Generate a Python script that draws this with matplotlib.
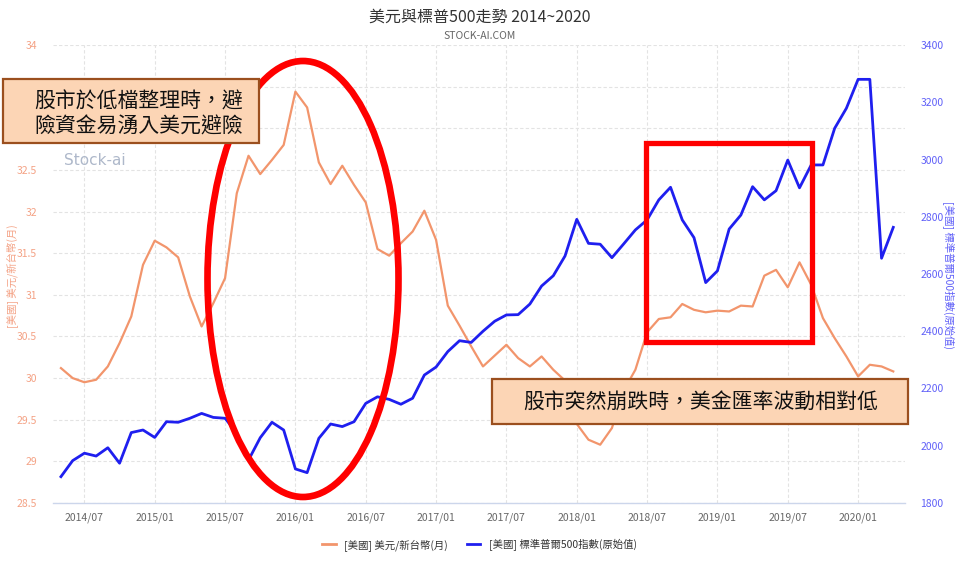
import numpy as np
import matplotlib
matplotlib.use("Agg")
import matplotlib.pyplot as plt
from matplotlib.patches import Rectangle, Ellipse
from matplotlib.ticker import FuncFormatter

plt.rcParams['font.family'] = ['Noto Sans CJK TC', 'DejaVu Sans']

# monthly data 2014/05 - 2020/04
months = [f"{y}/{m:02d}" for y in range(2014, 2021) for m in range(1, 13)]
months = months[months.index("2014/05"):months.index("2020/04") + 1]

usd_twd = [30.12, 30.00, 29.95, 29.98, 30.14, 30.42, 30.74, 31.36,
           31.65, 31.57, 31.45, 30.98, 30.62, 30.90, 31.20, 32.22, 32.67, 32.45, 32.62, 32.80,
           33.44, 33.25, 32.59, 32.33, 32.55, 32.32, 32.11, 31.55, 31.47, 31.62, 31.76, 32.01,
           31.66, 30.87, 30.63, 30.38, 30.14, 30.27, 30.40, 30.24, 30.14, 30.26, 30.10, 29.97,
           29.45, 29.26, 29.20, 29.40, 29.85, 30.10, 30.55, 30.71, 30.73, 30.89, 30.82, 30.79,
           30.81, 30.80, 30.87, 30.86, 31.23, 31.30, 31.09, 31.39, 31.12, 30.72, 30.48, 30.26,
           30.02, 30.16, 30.14, 30.08]

sp500 = [1892, 1948, 1974, 1964, 1993, 1939, 2046, 2055,
         2029, 2084, 2082, 2096, 2113, 2099, 2096, 2044, 1950, 2028, 2082, 2055,
         1919, 1906, 2026, 2076, 2067, 2084, 2148, 2171, 2162, 2145, 2166, 2247,
         2275, 2329, 2367, 2361, 2400, 2435, 2457, 2458, 2495, 2558, 2594, 2663,
         2791, 2707, 2704, 2657, 2705, 2754, 2789, 2859, 2903, 2789, 2727, 2570,
         2611, 2757, 2806, 2905, 2859, 2891, 2998, 2901, 2981, 2981, 3109, 3179,
         3280, 3280, 2655, 2763]

tick_months = ["2014/07", "2015/01", "2015/07", "2016/01", "2016/07", "2017/01",
               "2017/07", "2018/01", "2018/07", "2019/01", "2019/07", "2020/01"]

orange = '#F2956C'
blue = '#1F1FEF'
W, H = 959, 564

fig = plt.figure(figsize=(W / 100, H / 100), dpi=100)
ax = fig.add_axes([52.5 / W, 1 - 503 / H, (905 - 52.5) / W, (503 - 45) / H])
ax2 = ax.twinx()

x = np.arange(len(months))
ax.plot(x, usd_twd, color=orange, lw=1.6, zorder=3)
ax2.plot(x, sp500, color=blue, lw=2.0, zorder=3)

ax.set_xlim(-0.72, 72.0)
ax.set_ylim(28.5, 34)
ax2.set_ylim(1800, 3400)
ax.set_yticks(np.arange(28.5, 34.01, 0.5))
ax2.set_yticks(np.arange(1800, 3401, 200))
# 33 and 33.5 sit under the note box in the original
ax.yaxis.set_major_formatter(FuncFormatter(lambda v, p: "" if 32.9 < v < 33.6 else f"{v:g}"))
ax.set_xticks([months.index(t) for t in tick_months])
ax.set_xticklabels(tick_months)

for a in (ax, ax2):
    for s in a.spines.values():
        s.set_visible(False)
ax.spines['bottom'].set_visible(True)
ax.spines['bottom'].set_color('#ccd6eb')
ax.spines['bottom'].set_linewidth(1.0)

ax.tick_params(axis='x', length=0, pad=7, labelsize=7.5, labelcolor='#666666')
ax.tick_params(axis='y', length=0, pad=11, labelsize=7.5, labelcolor='#F4A285')
ax2.tick_params(axis='y', length=0, pad=11, labelsize=7.5, labelcolor='#6060F8')
ax.grid(True, color='#e3e3e3', linestyle=(0, (3, 2)), lw=0.8)
ax.set_axisbelow(True)

fig.text(11.7 / W, 1 - 276 / H, "[美國] 美元/新台幣(月)", rotation=90,
         ha='center', va='center', fontsize=7.5, color='#F4A285')
fig.text(948 / W, 1 - 275 / H, "[美國] 標準普爾500指數(原始值)", rotation=270,
         ha='center', va='center', fontsize=7.5, color='#6060F8')

fig.text(0.5, 1 - 17 / H, "美元與標普500走勢 2014~2020", ha='center', va='center',
         fontsize=11.5, color='#333333')
fig.text(0.5, 1 - 36 / H, "STOCK-AI.COM", ha='center', va='center',
         fontsize=7.5, color='#666666')

# watermark
fig.text(95 / W, 1 - 161 / H, "Stock-ai", ha='center', va='center',
         fontsize=11, color='#AEB8CA', family='DejaVu Sans')

# legend
h1, = ax.plot([], [], color=orange, lw=2, label="[美國] 美元/新台幣(月)")
h2, = ax.plot([], [], color=blue, lw=2, label="[美國] 標準普爾500指數(原始值)")
fig.legend(handles=[h1, h2], loc='center', bbox_to_anchor=(0.5, 1 - 545 / H), ncol=2,
           frameon=False, fontsize=7.5, handlelength=1.3, columnspacing=1.8,
           labelcolor='#333333')


def px_rect(x0, y0, x1, y1, **kw):
    return Rectangle((x0 / W, 1 - y1 / H), (x1 - x0) / W, (y1 - y0) / H,
                     transform=fig.transFigure, **kw)


# red highlights
fig.add_artist(Ellipse((303 / W, 1 - 279 / H), 191 / W, 436 / H, transform=fig.transFigure,
                       fill=False, edgecolor='#FF0000', lw=4.8, zorder=8))
fig.add_artist(px_rect(645.7, 143.3, 812.3, 341.7, fill=False, edgecolor='#FF0000',
                       lw=3.8, zorder=8))

# annotation boxes
fig.add_artist(px_rect(3, 79, 259, 143, facecolor='#FCD5B5', edgecolor='#9B4F1E',
                       lw=1.6, zorder=10))
fig.text(139 / W, 1 - 101.5 / H, "股市於低檔整理時，避", ha='center', va='center',
         fontsize=15, fontweight='light', color='#111111', zorder=11)
fig.text(139 / W, 1 - 126.5 / H, "險資金易湧入美元避險", ha='center', va='center',
         fontsize=15, fontweight='light', color='#111111', zorder=11)

fig.add_artist(px_rect(492, 379, 908, 424, facecolor='#FCD5B5', edgecolor='#9B4F1E',
                       lw=1.6, zorder=10))
fig.text(701 / W, 1 - 403 / H, "股市突然崩跌時，美金匯率波動相對低", ha='center', va='center',
         fontsize=15, fontweight='light', color='#111111', zorder=11)

fig.savefig("out.png", dpi=100)
